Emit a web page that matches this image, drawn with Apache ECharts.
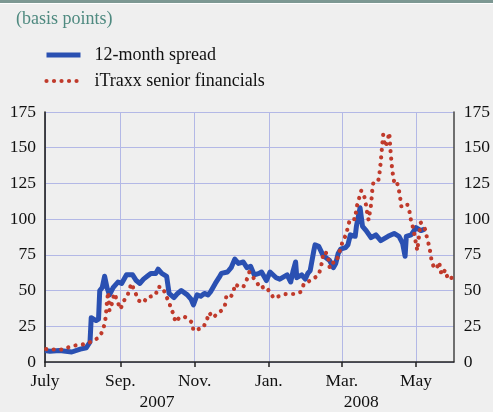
<!DOCTYPE html>
<html>
<head>
<meta charset="utf-8">
<script src="https://cdn.jsdelivr.net/npm/echarts@6/dist/echarts.min.js"></script>
<style>
html,body{margin:0;padding:0;background:#efefef;}
#c{width:493px;height:412px;}
</style>
</head>
<body>
<div id="c"></div>
<script>
// Axis range (daily categories)
const startDate = '2007-07-01';
const endDate = '2008-06-01';
const monthLabels = {'07':'July','09':'Sep.','11':'Nov.','01':'Jan.','03':'Mar.','05':'May'};
const yearLabels = [
  {text:'2007', from:'2007-07-01', to:'2008-01-01'},
  {text:'2008', from:'2008-01-01', to:'2008-06-01'}
];

// 12-month spread (basis points)
const spreadDates = ['2007-07-01','2007-07-05','2007-07-13','2007-07-23','2007-07-30','2007-08-04','2007-08-07','2007-08-08','2007-08-12','2007-08-14','2007-08-15','2007-08-17','2007-08-19','2007-08-21','2007-08-23','2007-08-26','2007-08-30','2007-09-02','2007-09-06','2007-09-11','2007-09-14','2007-09-17','2007-09-20','2007-09-23','2007-09-26','2007-09-30','2007-10-02','2007-10-05','2007-10-09','2007-10-11','2007-10-15','2007-10-18','2007-10-21','2007-10-26','2007-10-29','2007-10-31','2007-11-03','2007-11-06','2007-11-09','2007-11-12','2007-11-14','2007-11-18','2007-11-21','2007-11-23','2007-11-28','2007-12-01','2007-12-04','2007-12-07','2007-12-11','2007-12-14','2007-12-17','2007-12-20','2007-12-24','2007-12-26','2007-12-30','2008-01-02','2008-01-07','2008-01-10','2008-01-11','2008-01-16','2008-01-19','2008-01-21','2008-01-23','2008-01-24','2008-01-28','2008-01-31','2008-02-02','2008-02-04','2008-02-07','2008-02-08','2008-02-11','2008-02-15','2008-02-17','2008-02-20','2008-02-23','2008-02-25','2008-02-27','2008-02-29','2008-03-04','2008-03-06','2008-03-08','2008-03-12','2008-03-13','2008-03-16','2008-03-18','2008-03-21','2008-03-25','2008-03-29','2008-04-02','2008-04-08','2008-04-13','2008-04-17','2008-04-20','2008-04-22','2008-04-23','2008-04-27','2008-05-01','2008-05-05','2008-05-08'];
const spreadValues = [8,7.5,8,7,9,10,14,31,29,30,50,52,60,52,47,52,56,55,61,61,57,55,58,60,62,62,65,62,60,48,45,48,50,47,44,40,47,46,48,47,49,55,59,62,63,66,72,69,70,66,67,61,62,63,57,63,59,58,57,61,56,64,70,59,61,58,62,64,78,82,81,74,73,71,66,69,76,79,80,82,89,88,95,108,95,92,87,89,85,88,90,88,83,74,88,89,94,92,93];

// iTraxx senior financials (basis points)
const itraxxDates = ['2007-07-02','2007-07-09','2007-07-16','2007-07-22','2007-07-29','2007-08-04','2007-08-09','2007-08-14','2007-08-17','2007-08-19','2007-08-20','2007-08-21','2007-08-22','2007-08-23','2007-08-25','2007-08-27','2007-09-01','2007-09-04','2007-09-07','2007-09-10','2007-09-13','2007-09-16','2007-09-20','2007-09-23','2007-09-27','2007-09-30','2007-10-02','2007-10-06','2007-10-08','2007-10-11','2007-10-13','2007-10-15','2007-10-16','2007-10-19','2007-10-23','2007-10-26','2007-10-30','2007-10-31','2007-11-04','2007-11-08','2007-11-11','2007-11-13','2007-11-16','2007-11-20','2007-11-23','2007-11-26','2007-11-27','2007-11-30','2007-12-03','2007-12-04','2007-12-08','2007-12-11','2007-12-14','2007-12-16','2007-12-18','2007-12-22','2007-12-25','2007-12-29','2008-01-02','2008-01-05','2008-01-09','2008-01-14','2008-01-18','2008-01-23','2008-01-27','2008-01-30','2008-02-02','2008-02-07','2008-02-11','2008-02-13','2008-02-14','2008-02-15','2008-02-18','2008-02-19','2008-02-20','2008-02-22','2008-02-25','2008-02-27','2008-02-29','2008-03-02','2008-03-05','2008-03-06','2008-03-08','2008-03-12','2008-03-13','2008-03-15','2008-03-17','2008-03-18','2008-03-20','2008-03-21','2008-03-22','2008-03-23','2008-03-25','2008-03-26','2008-03-27','2008-03-31','2008-04-01','2008-04-02','2008-04-03','2008-04-04','2008-04-05','2008-04-06','2008-04-08','2008-04-09','2008-04-10','2008-04-11','2008-04-12','2008-04-13','2008-04-15','2008-04-17','2008-04-18','2008-04-19','2008-04-21','2008-04-24','2008-04-26','2008-04-27','2008-04-29','2008-04-30','2008-05-01','2008-05-02','2008-05-03','2008-05-04','2008-05-05','2008-05-07','2008-05-09','2008-05-10','2008-05-12','2008-05-13','2008-05-14','2008-05-16','2008-05-18','2008-05-20','2008-05-21','2008-05-22','2008-05-25','2008-05-27','2008-05-30','2008-05-31'];
const itraxxValues = [9,8.7,8.7,11,12,12.6,14.7,17,21,26.6,32,43,49,36,41,48,37,43,47,55,49,43,41.5,45.5,46,47,52.7,52,47,42,36,33.6,28,30.5,32,30.5,27.5,22,23,24,29.4,34.5,31,34,36,40,45.7,44.6,49,54.5,52.5,52.5,58,63,60.5,56,51.6,53,49,44.6,46,47.5,47.6,47.6,49,55,56,58.6,61,67,72,77,76,72,66,69.5,69.5,74,80,85,90,95.5,100,100,108,114,120,120,114.6,109,103.6,99.4,110,120,126,127,132.5,140,150,159,153.5,150.7,156.6,160.5,148,138,131,126,127,120,114.6,108.5,110,110,104,98,93,87,83,78,85,92,97.5,95,92,86.6,80.7,75,70,65.6,65.6,70,65,61,64.4,58.6,59.7,54];

// build daily category list
function fmt(d){return d.toISOString().slice(0,10);}
const categories = [];
for (let t = Date.parse(startDate+'T00:00:00Z'); t <= Date.parse(endDate+'T00:00:00Z'); t += 86400000) {
  categories.push(fmt(new Date(t)));
}
const catIndex = {};
categories.forEach((c,i)=>catIndex[c]=i);
const isTick = (idx, val) => val.slice(8)==='01' && monthLabels[val.slice(5,7)] !== undefined;

const FONT = 'Liberation Serif';
const BLUE = '#2a50b2', RED = '#c03a2b';
const chart = echarts.init(document.getElementById('c'), null, {renderer:'canvas'});
const option = {
  backgroundColor:'#efefef',
  animation:false,
  title:{text:'(basis points)', left:11, top:5, textStyle:{color:'#4f8a80', fontSize:18, fontWeight:'normal', fontFamily:FONT}},
  legend:{
    orient:'vertical', left:44, top:46, padding:0, itemWidth:34, itemHeight:14, itemGap:8,
    itemStyle:{opacity:0},
    lineStyle:{width:'inherit', type:'inherit', cap:'inherit'},
    textStyle:{fontSize:18, fontFamily:FONT, color:'#111', padding:[0,0,0,9]},
    data:['12-month spread','iTraxx senior financials']
  },
  grid:{left:45, right:36, top:112, bottom:50, containLabel:false},
  xAxis:{
    type:'category', data:categories, boundaryGap:false,
    axisLine:{show:true, lineStyle:{color:'#222', width:1.5}},
    axisTick:{show:true, interval:isTick, length:5, inside:false, lineStyle:{color:'#222', width:1.5}},
    axisLabel:{interval:isTick, formatter:v=>monthLabels[v.slice(5,7)]||'', margin:10, fontSize:17.5, fontFamily:FONT, color:'#111'},
    splitLine:{show:true, interval:isTick, lineStyle:{color:'#b3b8e6', width:1}}
  },
  yAxis:[
    {type:'value', min:0, max:175, interval:25, position:'left',
     axisLine:{show:true, lineStyle:{color:'#111', width:1.5}}, axisTick:{show:false},
     axisLabel:{margin:9, fontSize:17.5, fontFamily:FONT, color:'#111'},
     splitLine:{show:true, lineStyle:{color:'#b3b8e6', width:1}}},
    {type:'value', min:0, max:175, interval:25, position:'right',
     axisLine:{show:true, lineStyle:{color:'#444', width:1.5}}, axisTick:{show:false},
     axisLabel:{margin:10, fontSize:17.5, fontFamily:FONT, color:'#111'},
     splitLine:{show:false}}
  ],
  series:[
    {name:'12-month spread', type:'line', symbol:'none', z:3,
     lineStyle:{color:BLUE, width:5, join:'round'}, itemStyle:{color:BLUE},
     data:spreadDates.map((d,i)=>[catIndex[d], spreadValues[i]])},
    {name:'iTraxx senior financials', type:'line', symbol:'none', z:4,
     lineStyle:{color:RED, width:4.2, type:[0.01,7.5], cap:'round'}, itemStyle:{color:RED},
     data:itraxxDates.map((d,i)=>[catIndex[d], itraxxValues[i]])}
  ],
  graphic:[
    {type:'rect', left:0, top:0, shape:{width:493, height:3}, style:{fill:'#7d9893'}},
    {type:'rect', left:0, top:3, shape:{width:493, height:1}, style:{fill:'#ffffff'}}
  ]
};
chart.setOption(option);
const yearGraphics = yearLabels.map(y=>{
  const x1 = chart.convertToPixel({xAxisIndex:0}, catIndex[y.from]);
  const x2 = chart.convertToPixel({xAxisIndex:0}, catIndex[y.to]);
  return {type:'text', x:(x1+x2)/2, y:402, style:{text:y.text, fill:'#111', font:'17.5px "Liberation Serif"', textAlign:'center', textVerticalAlign:'middle'}};
});
chart.setOption({graphic:option.graphic.concat(yearGraphics)});
</script>
</body>
</html>
